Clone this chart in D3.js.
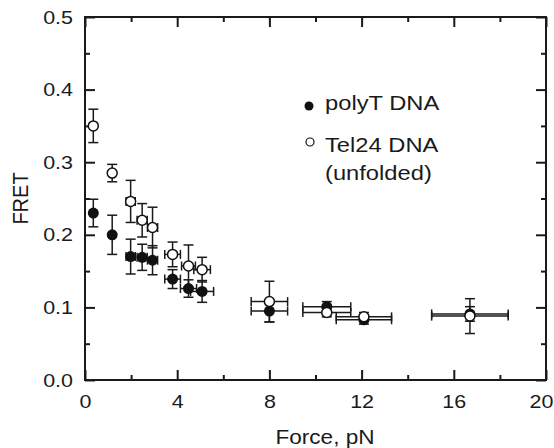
<!DOCTYPE html>
<html lang="en">
  <head>
    <meta charset="utf-8">
    <title>FRET vs force</title>
    <style>
      body { margin: 0; background: #fff; }
      text { font-family: "Liberation Sans", Arial, sans-serif; fill: #1a1a1a; }
    </style>
  </head>
  <body>
  <script src="https://cdnjs.cloudflare.com/ajax/libs/d3/7.8.5/d3.min.js"></script>
  <script>
    // values
    var force     = [0.36, 1.18, 1.98, 2.48, 2.93, 3.80, 4.49, 5.08, 8.00, 10.49, 12.10, 16.70];
    var polyT     = [0.230, 0.200, 0.170, 0.169, 0.165, 0.139, 0.126, 0.122, 0.095, 0.101, 0.083, 0.091];
    var polyTErr  = [0.019, 0.027, 0.024, 0.018, 0.020, 0.013, 0.012, 0.015, 0.015, 0.007, 0.006, 0.010];
    var polyTFErr = [0, 0, 0.20, 0.22, 0.22, 0.34, 0.35, 0.50, 0.79, 1.04, 1.20, 1.66];
    var tel24     = [0.350, 0.285, 0.246, 0.220, 0.210, 0.173, 0.157, 0.152, 0.108, 0.093, 0.087, 0.088];
    var tel24Err  = [0.023, 0.012, 0.029, 0.023, 0.028, 0.017, 0.029, 0.017, 0.028, 0.006, 0.006, 0.024];
    var tel24FErr = [0, 0, 0.20, 0.22, 0.22, 0.34, 0.30, 0.36, 0.79, 1.04, 1.20, 1.66];
    var xTicks = [0, 4, 8, 12, 16, 20];
    var yTicks = [0.0, 0.1, 0.2, 0.3, 0.4, 0.5];
    var legendLabels = ["polyT DNA", "Tel24 DNA", "(unfolded)"];

    var W = 554, H = 448;
    // plot box (note: "top" is reserved on window, so use pTop etc.)
    var pLeft = 85, pRight = 546, pTop = 17, pBottom = 380;
    var stretch = 1.13; // the original lettering is a bit wider than Arial

    var svg = d3.select("body").append("svg").attr("width", W).attr("height", H);

    var x = d3.scaleLinear().domain([0, 20]).range([pLeft, pRight]);
    var y = d3.scaleLinear().domain([0, 0.5]).range([pBottom, pTop]);

    var xMinor = d3.range(2, 20, 4);
    var yMinor = d3.range(0.05, 0.5, 0.1);

    // axes, ticks point inward on all four sides
    function styleAxis(g) {
      g.select(".domain").remove();
      g.selectAll("line").attr("stroke", "#1a1a1a").attr("stroke-width", 2);
      g.selectAll("text").style("font-size", "19px").attr("fill", "#1a1a1a");
    }

    var xAxisG = svg.append("g").attr("transform", "translate(0," + pBottom + ")")
      .call(d3.axisBottom(x).tickValues(xTicks).tickFormat(d3.format("d")).tickSize(-10).tickPadding(15))
      .call(styleAxis);
    xAxisG.selectAll(".tick text")
      .attr("transform", "scale(" + stretch + ",1)")
      .attr("x", function(d) { return d === 20 ? -5 / stretch : 0; });

    svg.append("g").attr("transform", "translate(0," + pBottom + ")")
      .call(d3.axisBottom(x).tickValues(xMinor).tickFormat("").tickSize(-5))
      .call(styleAxis);
    svg.append("g").attr("transform", "translate(0," + pTop + ")")
      .call(d3.axisTop(x).tickValues(xTicks).tickFormat("").tickSize(-10))
      .call(styleAxis);
    svg.append("g").attr("transform", "translate(0," + pTop + ")")
      .call(d3.axisTop(x).tickValues(xMinor).tickFormat("").tickSize(-5))
      .call(styleAxis);

    var yAxisG = svg.append("g").attr("transform", "translate(" + pLeft + ",0)")
      .call(d3.axisLeft(y).tickValues(yTicks).tickFormat(d3.format(".1f")).tickSize(-10).tickPadding(12))
      .call(styleAxis);
    yAxisG.selectAll(".tick text")
      .attr("transform", "scale(" + stretch + ",1)")
      .attr("x", -12 / stretch);

    svg.append("g").attr("transform", "translate(" + pLeft + ",0)")
      .call(d3.axisLeft(y).tickValues(yMinor).tickFormat("").tickSize(-5))
      .call(styleAxis);
    svg.append("g").attr("transform", "translate(" + pRight + ",0)")
      .call(d3.axisRight(y).tickValues(yTicks).tickFormat("").tickSize(-10))
      .call(styleAxis);
    svg.append("g").attr("transform", "translate(" + pRight + ",0)")
      .call(d3.axisRight(y).tickValues(yMinor).tickFormat("").tickSize(-5))
      .call(styleAxis);

    // frame
    svg.append("rect")
      .attr("x", pLeft).attr("y", pTop)
      .attr("width", pRight - pLeft).attr("height", pBottom - pTop)
      .attr("fill", "none").attr("stroke", "#1a1a1a").attr("stroke-width", 2);

    // axis titles
    svg.append("text")
      .attr("transform", "translate(325,444) scale(" + stretch + ",1)")
      .attr("text-anchor", "middle")
      .style("font-size", "20px")
      .text("Force, pN");
    svg.append("text")
      .attr("transform", "translate(28," + (pTop + pBottom) / 2 + ") rotate(-90) scale(1," + stretch + ")")
      .attr("text-anchor", "middle")
      .style("font-size", "20px")
      .text("FRET");

    function makeRows(vals, err, ferr) {
      return force.map(function(f, i) {
        return { f: f, v: vals[i], e: err[i], fe: ferr[i] };
      });
    }
    var filledRows = makeRows(polyT, polyTErr, polyTFErr);
    var openRows = makeRows(tel24, tel24Err, tel24FErr);

    // error bars (vertical + horizontal with caps)
    function drawErrors(rows) {
      var g = svg.append("g").attr("stroke", "#1a1a1a").attr("stroke-width", 1.5).attr("fill", "none");
      rows.forEach(function(d) {
        var cx = x(d.f), cy = y(d.v);
        var y1 = y(d.v + d.e), y2 = y(d.v - d.e);
        g.append("line").attr("x1", cx).attr("x2", cx).attr("y1", y1).attr("y2", y2);
        g.append("line").attr("x1", cx - 5).attr("x2", cx + 5).attr("y1", y1).attr("y2", y1);
        g.append("line").attr("x1", cx - 5).attr("x2", cx + 5).attr("y1", y2).attr("y2", y2);
        if (d.fe > 0) {
          var x1 = x(d.f - d.fe), x2 = x(d.f + d.fe);
          g.append("line").attr("x1", x1).attr("x2", x2).attr("y1", cy).attr("y2", cy);
          g.append("line").attr("x1", x1).attr("x2", x1).attr("y1", cy - 4.5).attr("y2", cy + 4.5);
          g.append("line").attr("x1", x2).attr("x2", x2).attr("y1", cy - 4.5).attr("y2", cy + 4.5);
        }
      });
    }
    drawErrors(filledRows);
    drawErrors(openRows);

    svg.append("g").selectAll("circle").data(filledRows)
      .enter().append("circle")
      .attr("cx", function(d) { return x(d.f); })
      .attr("cy", function(d) { return y(d.v); })
      .attr("r", 5.5)
      .attr("fill", "#111");

    svg.append("g").selectAll("circle").data(openRows)
      .enter().append("circle")
      .attr("cx", function(d) { return x(d.f); })
      .attr("cy", function(d) { return y(d.v); })
      .attr("r", 5)
      .attr("fill", "#fff")
      .attr("stroke", "#111")
      .attr("stroke-width", 1.5);

    // legend
    svg.append("circle").attr("cx", 309).attr("cy", 106).attr("r", 4.5).attr("fill", "#111");
    svg.append("circle").attr("cx", 310).attr("cy", 142).attr("r", 4)
      .attr("fill", "#fff").attr("stroke", "#111").attr("stroke-width", 1.2);
    var legendY = [110, 152, 180];
    legendLabels.forEach(function(t, i) {
      svg.append("text")
        .attr("transform", "translate(325," + legendY[i] + ") scale(" + stretch + ",1)")
        .style("font-size", "21px")
        .text(t);
    });
  </script>
  </body>
</html>
